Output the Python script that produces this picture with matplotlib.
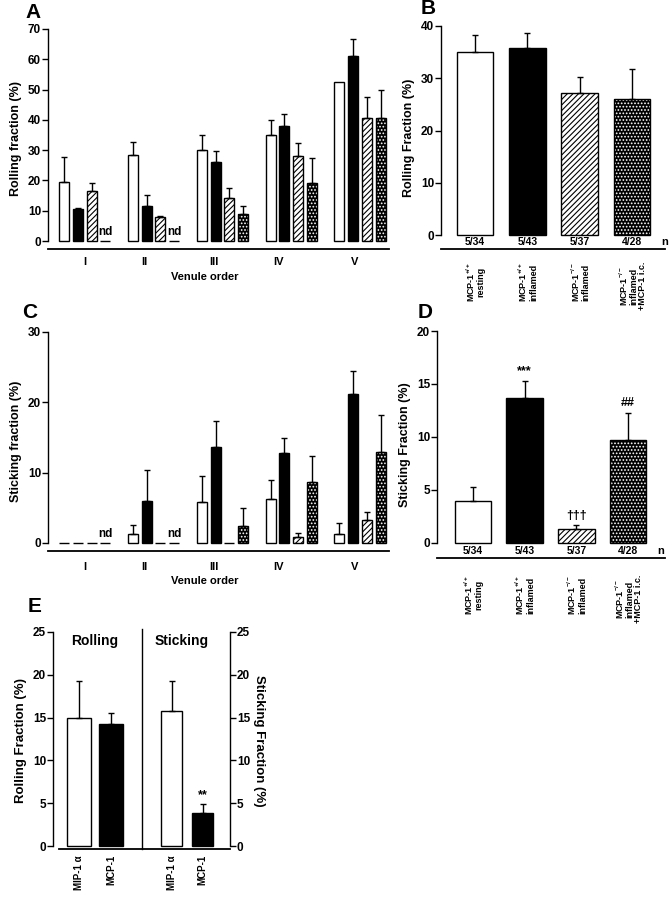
import numpy as np
import matplotlib
matplotlib.use('Agg')
import matplotlib.pyplot as plt
import matplotlib.transforms as mtransforms

plt.rcParams['font.family'] = ['Liberation Sans', 'DejaVu Sans']
plt.rcParams['font.weight'] = 'bold'
plt.rcParams['axes.labelweight'] = 'bold'
plt.rcParams['mathtext.fontset'] = 'custom'
plt.rcParams['mathtext.rm'] = 'Liberation Sans:bold'
plt.rcParams['mathtext.default'] = 'rm'
plt.rcParams['hatch.linewidth'] = 0.8

# ---- data ----
venules = ['I', 'II', 'III', 'IV', 'V']
series = ['resting', 'inflamed', 'ko_inflamed', 'ko_ic']

# panel A: rolling fraction by venule order
a_mean = [[19.5, 28.5, 30.0, 35.0, 52.5],
          [10.5, 11.5, 26.0, 38.0, 61.0],
          [16.5, 8.0, 14.3, 28.0, 40.5],
          [0.0, 0.0, 8.8, 19.3, 40.5]]
a_err = [[8.2, 4.3, 5.0, 5.0, 0.0],
         [0.5, 3.8, 3.7, 4.0, 5.6],
         [2.6, 0.2, 3.3, 4.5, 7.0],
         [0.0, 0.0, 2.7, 8.0, 9.5]]
a_nd = ['I', 'II']

# panel C: sticking fraction by venule order
c_mean = [[0.0, 1.3, 5.8, 6.2, 1.3],
          [0.0, 6.0, 13.7, 12.8, 21.2],
          [0.0, 0.0, 0.0, 0.8, 3.3],
          [0.0, 0.0, 2.4, 8.7, 13.0]]
c_err = [[0.0, 1.2, 3.7, 2.8, 1.5],
         [0.0, 4.4, 3.7, 2.1, 3.2],
         [0.0, 0.0, 0.0, 0.6, 1.1],
         [0.0, 0.0, 2.6, 3.6, 5.2]]
c_nd = ['I', 'II']

# panels B and D: pooled
groups = ['MCP-1$^{+/+}$\nresting', 'MCP-1$^{+/+}$\ninflamed',
          'MCP-1$^{-/-}$\ninflamed', 'MCP-1$^{-/-}$\ninflamed\n+MCP-1 i.c.']
n_labels = ['5/34', '5/43', '5/37', '4/28']
b_mean = [35.0, 35.7, 27.2, 26.0]
b_err = [3.2, 3.0, 3.1, 5.7]
d_mean = [4.0, 13.7, 1.3, 9.7]
d_err = [1.3, 1.6, 0.4, 2.6]
d_marks = ['', '***', '\u2020\u2020\u2020', '##']

# panel E
e_labels = ['MIP-1 \u03b1', 'MCP-1']
e_roll = [15.0, 14.3]
e_roll_err = [4.3, 1.2]
e_stick = [15.8, 3.9]
e_stick_err = [3.5, 1.0]
e_marks = ['', '**']

W, H = 672, 900
fig = plt.figure(figsize=(W / 100, H / 100), dpi=100)


def ax_px(l, t, r, b):
    return fig.add_axes([l / W, 1 - b / H, (r - l) / W, (b - t) / H])


def style_bar(ax, kind, x, h, w):
    if kind == 0:
        ax.bar(x, h, w, facecolor='white', edgecolor='k', lw=1)
    elif kind == 1:
        ax.bar(x, h, w, facecolor='k', edgecolor='k', lw=1)
    elif kind == 2:
        ax.bar(x, h, w, facecolor='white', edgecolor='k', lw=1, hatch='//////')
    else:
        ax.bar(x, h, w, facecolor='k', edgecolor='white', lw=0, hatch='.....')
        ax.bar(x, h, w, fill=False, edgecolor='k', lw=1)


def errs(ax, x, y, e):
    x = np.asarray(x, float); y = np.asarray(y, float); e = np.asarray(e, float)
    m = e > 0
    ax.errorbar(x[m], y[m], yerr=[np.zeros(m.sum()), e[m]], fmt='none',
                ecolor='k', elinewidth=1, capsize=2.5, capthick=1)


def base_axes(ax, top):
    for s in ['top', 'right']:
        ax.spines[s].set_visible(False)
    ax.spines['left'].set_bounds(0, top)
    ax.spines['left'].set_linewidth(1)
    ax.spines['bottom'].set_linewidth(1.3)
    ax.tick_params(axis='y', direction='out', length=4, width=1, labelsize=8.5, pad=1)
    ax.tick_params(axis='x', length=0, labelsize=8)


def venule_panel(ax, means, errors, nd, top, step, ylabel):
    bw = 0.73
    for j in range(4):
        xs = np.arange(5) * 5 + j
        for g in range(5):
            style_bar(ax, j, xs[g], means[j][g], bw)
        errs(ax, xs, np.array(means[j]), errors[j])
    for v in nd:
        g = venules.index(v)
        ax.text(g * 5 + 3, top * 0.012, 'nd', ha='center', va='bottom', fontsize=8.5)
    ax.set_xlim(-1.17, 23.6)
    ax.set_yticks(np.arange(0, top + 1, step))
    ax.set_xticks([1.5, 5.8, 10.9, 15.6, 21.1])
    ax.set_xticklabels(venules)
    ax.set_ylabel(ylabel, fontsize=9, labelpad=4)
    base_axes(ax, top)


# panel A
axA = ax_px(48, 29, 389, 249)
axA.set_ylim(-2.64, 70)
venule_panel(axA, a_mean, a_err, a_nd, 70, 10, 'Rolling fraction (%)')
axA.tick_params(axis='x', pad=6)
fig.text(205 / W, 1 - 277 / H, 'Venule order', ha='center', va='center', fontsize=8)

# panel C
axC = ax_px(48, 332, 389, 551)
axC.set_ylim(-1.14, 30)
venule_panel(axC, c_mean, c_err, c_nd, 30, 10, 'Sticking fraction (%)')
axC.tick_params(axis='x', pad=8)
fig.text(205 / W, 1 - 581 / H, 'Venule order', ha='center', va='center', fontsize=8)


def pooled_panel(ax, means, errors, top, step, ylabel, label_top_px, n_y):
    for j in range(4):
        style_bar(ax, j, j, means[j], 0.7)
    errs(ax, np.arange(4), np.array(means), errors)
    ax.set_yticks(np.arange(0, top + 1, step))
    ax.set_xticks([])
    ax.set_ylabel(ylabel, fontsize=9, labelpad=4)
    base_axes(ax, top)
    for j in range(4):
        ax.text(j, n_y, n_labels[j], ha='center', va='center', fontsize=7.5)
    ax.text(3.62, n_y, 'n', ha='center', va='center', fontsize=8)
    tr = mtransforms.blended_transform_factory(ax.transData, fig.transFigure)
    for j in range(4):
        ax.text(j, 1 - label_top_px / H, groups[j], transform=tr, rotation=90,
                ha='center', va='top', multialignment='center',
                fontsize=6.5, linespacing=0.95)


# panel B
axB = ax_px(441, 26, 665, 249)
axB.set_ylim(-2.65, 40)
axB.set_xlim(-0.65, 3.63)
pooled_panel(axB, b_mean, b_err, 40, 10, 'Rolling Fraction (%)', 262, -1.3)

# panel D
axD = ax_px(437, 331, 665, 558)
axD.set_ylim(-1.42, 20)
axD.set_xlim(-0.69, 3.71)
pooled_panel(axD, d_mean, d_err, 20, 5, 'Sticking Fraction (%)', 575, -0.8)
for j in range(4):
    if d_marks[j]:
        axD.text(j, d_mean[j] + d_err[j] + 0.3, d_marks[j], ha='center',
                 va='bottom', fontsize=9)

# panel E
axE = ax_px(53, 632, 230, 849)
axE.set_ylim(-0.35, 25)
axE.set_xlim(-0.81, 4.72)
style_bar(axE, 0, 0, e_roll[0], 0.75)
style_bar(axE, 1, 1, e_roll[1], 0.75)
errs(axE, [0, 1], e_roll, e_roll_err)
axE2 = axE.twinx()
axE2.set_ylim(-0.35, 25)
style_bar(axE2, 0, 2.9, e_stick[0], 0.65)
style_bar(axE2, 1, 3.87, e_stick[1], 0.65)
errs(axE2, [2.9, 3.87], e_stick, e_stick_err)
axE2.text(3.87, e_stick[1] + e_stick_err[1] + 0.3, e_marks[1], ha='center',
          va='bottom', fontsize=9)
base_axes(axE, 25)
axE.spines['bottom'].set_bounds(-0.63, 4.72)
axE.set_yticks(np.arange(0, 26, 5))
axE.set_xticks([])
axE.set_ylabel('Rolling Fraction (%)', fontsize=9.5, labelpad=4)
for s in ['top', 'left', 'bottom']:
    axE2.spines[s].set_visible(False)
axE2.spines['right'].set_bounds(0, 25)
axE2.spines['right'].set_linewidth(1)
axE2.set_yticks(np.arange(0, 26, 5))
axE2.tick_params(axis='y', direction='out', length=4, width=1, labelsize=8.5, pad=1)
axE2.set_ylabel('Sticking Fraction (%)', fontsize=9.5, rotation=270, labelpad=11)
axE.plot([1.97, 1.97], [-0.35, 25.4], color='k', lw=1, clip_on=False)
axE.text(0.5, 24.0, 'Rolling', ha='center', va='center', fontsize=10)
axE.text(3.2, 24.0, 'Sticking', ha='center', va='center', fontsize=10)
trE = mtransforms.blended_transform_factory(axE.transData, fig.transFigure)
for x, lab in zip([0, 1, 2.9, 3.87], e_labels * 2):
    axE.text(x, 1 - 855 / H, lab, transform=trE, rotation=90, ha='center',
             va='top', fontsize=7)

# panel letters
for lab, x, y in [('A', 33, 12), ('B', 428, 9), ('C', 30, 312),
                  ('D', 425, 312), ('E', 35, 607)]:
    fig.text(x / W, 1 - y / H, lab, ha='center', va='center', fontsize=15)

fig.savefig('out.png', dpi=100)
